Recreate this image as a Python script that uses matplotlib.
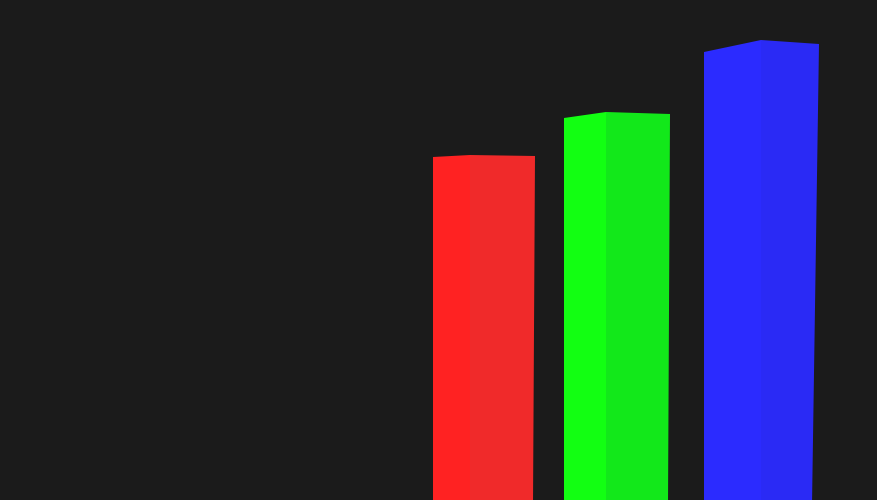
import matplotlib
matplotlib.use("Agg")
import matplotlib.pyplot as plt

# bar data (heights, measured from bottom of frame)
categories = ["red", "green", "blue"]
values = [343, 382, 448]

# layout / style
lefts = [433, 564, 704]
splits = [470, 606, 761]
rights = [535, 670, 819]
rights_bottom = [533, 668, 812]
rise = [2, 6, 12]
drop = [1, 2, 4]
front_colors = ["#ff2222", "#12ff12", "#2b2bff"]
side_colors = ["#f02a2a", "#12e81a", "#2a2af5"]
bg = "#1b1b1b"

fig = plt.figure(figsize=(8.77, 5.0), dpi=100)
fig.patch.set_facecolor(bg)
ax = fig.add_axes([0, 0, 1, 1])
ax.set_facecolor(bg)
ax.set_xlim(0, 877)
ax.set_ylim(0, 500)
ax.axis("off")

for i, name in enumerate(categories):
    h = values[i]
    top_ridge = h + rise[i]
    top_right = top_ridge - drop[i]
    # front face
    ax.fill([lefts[i], lefts[i], splits[i], splits[i]],
            [-5, h, top_ridge, -5],
            color=front_colors[i], lw=0)
    # side face
    ax.fill([splits[i], splits[i], rights[i], rights_bottom[i]],
            [-5, top_ridge, top_right, -5],
            color=side_colors[i], lw=0)

fig.savefig("out.png", dpi=100, facecolor=bg)
